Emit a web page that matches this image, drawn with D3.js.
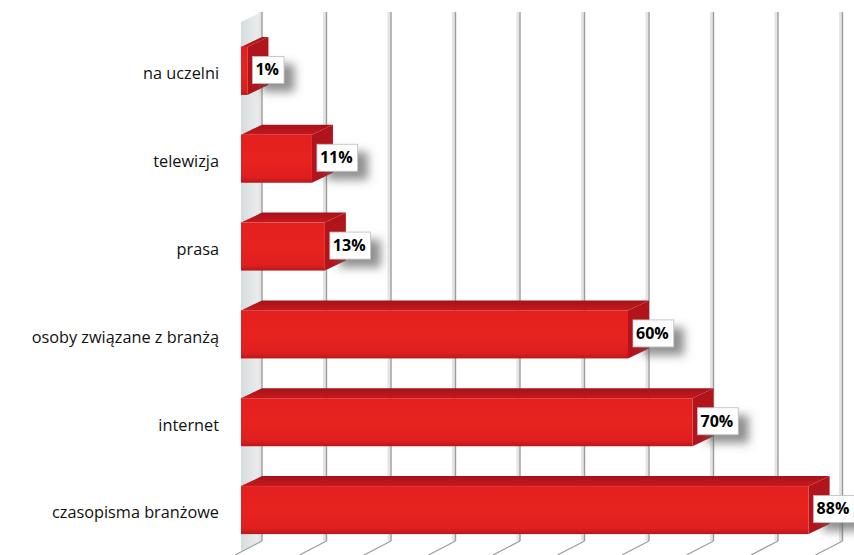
<!DOCTYPE html>
<html>
<head>
<meta charset="utf-8">
<script src="https://cdn.jsdelivr.net/npm/d3@7"></script>
<style>
  html, body { margin: 0; padding: 0; background: #fff; }
  svg { display: block; }
</style>
</head>
<body>
<script>
// Źródła informacji – udział odpowiedzi (%)
const categories = ["na uczelni", "telewizja", "prasa", "osoby związane z branżą", "internet", "czasopisma branżowe"];
const values = [1, 11, 13, 60, 70, 88];
const gridTicks = [0, 10, 20, 30, 40, 50, 60, 70, 80, 90, 100];

const W = 854, H = 555;
const depthX = 21, depthY = 10;      // 3D depth offset (front -> back)
const faceH = 48;                    // height of bar front face

const svg = d3.select("body").append("svg")
  .attr("width", W).attr("height", H);

const defs = svg.append("defs");

// gradients
const gFront = defs.append("linearGradient").attr("id", "gFront")
  .attr("x1", 0).attr("y1", 0).attr("x2", 0).attr("y2", 1);
gFront.append("stop").attr("offset", "0%").attr("stop-color", "#e2201f");
gFront.append("stop").attr("offset", "55%").attr("stop-color", "#e8231f");
gFront.append("stop").attr("offset", "90%").attr("stop-color", "#dc1e1e");
gFront.append("stop").attr("offset", "100%").attr("stop-color", "#b8181a");

const gTop = defs.append("linearGradient").attr("id", "gTop")
  .attr("x1", 0).attr("y1", 0).attr("x2", 0).attr("y2", 1);
gTop.append("stop").attr("offset", "0%").attr("stop-color", "#a51219");
gTop.append("stop").attr("offset", "100%").attr("stop-color", "#c41a1e");

const gWall = defs.append("linearGradient").attr("id", "gWall")
  .attr("x1", 0).attr("y1", 0).attr("x2", 1).attr("y2", 0);
gWall.append("stop").attr("offset", "0%").attr("stop-color", "#d6dcdc");
gWall.append("stop").attr("offset", "100%").attr("stop-color", "#eef0f0");

const shadow = defs.append("filter").attr("id", "boxShadow")
  .attr("x", "-20%").attr("y", "-30%").attr("width", "190%").attr("height", "220%");
shadow.append("feDropShadow")
  .attr("dx", 10).attr("dy", 8).attr("stdDeviation", 5)
  .attr("flood-color", "#606060").attr("flood-opacity", 0.7);

// scales
const x = d3.scaleLinear().domain([0, 100]).range([241, 241 + 645]);
const y = d3.scaleBand().domain(categories).range([27, 554]).paddingInner(0).paddingOuter(0);
const cy = d => y(d) + y.bandwidth() / 2;

const wallTop = 12, wallBottom = 541;

// left side wall
svg.append("path")
  .attr("d", `M${x(0)},${wallTop + depthY} L${x(0) + depthX},${wallTop} L${x(0) + depthX},${wallBottom} L${x(0)},${wallBottom + depthY} Z`)
  .attr("fill", "url(#gWall)");

// back wall gridlines
const grid = svg.append("g");
grid.selectAll("line.soft").data(gridTicks).join("line")
  .attr("class", "soft")
  .attr("x1", d => x(d) + depthX - 2).attr("x2", d => x(d) + depthX - 2)
  .attr("y1", wallTop).attr("y2", wallBottom)
  .attr("stroke", "#e4e4e4").attr("stroke-width", 3);
grid.selectAll("line.main").data(gridTicks).join("line")
  .attr("class", "main")
  .attr("x1", d => x(d) + depthX).attr("x2", d => x(d) + depthX)
  .attr("y1", wallTop).attr("y2", wallBottom)
  .attr("stroke", "#9c9c9c").attr("stroke-width", 1.4);
// floor gridlines
grid.selectAll("line.floor").data(gridTicks).join("line")
  .attr("class", "floor")
  .attr("x1", d => x(d) + depthX).attr("y1", wallBottom)
  .attr("x2", d => x(d) - 6).attr("y2", wallBottom + 14)
  .attr("stroke", "#9c9c9c").attr("stroke-width", 1.2);

// bars
const bars = svg.append("g").selectAll("g.bar")
  .data(categories.map((c, i) => ({ c, v: values[i] })))
  .join("g").attr("class", "bar");

bars.append("path") // top face
  .attr("d", d => {
    const t = cy(d.c) - faceH / 2, x0 = x(0), x1 = x(d.v);
    return `M${x0},${t} L${x1},${t} L${x1 + depthX},${t - depthY} L${x0 + depthX},${t - depthY} Z`;
  })
  .attr("fill", "url(#gTop)");

bars.append("path") // end face
  .attr("d", d => {
    const t = cy(d.c) - faceH / 2, b = t + faceH, x1 = x(d.v);
    return `M${x1},${t} L${x1 + depthX},${t - depthY} L${x1 + depthX},${b - depthY} L${x1},${b} Z`;
  })
  .attr("fill", "#b2141b");

bars.append("rect") // front face
  .attr("x", x(0))
  .attr("y", d => cy(d.c) - faceH / 2)
  .attr("width", d => x(d.v) - x(0))
  .attr("height", faceH)
  .attr("fill", "url(#gFront)");

// category labels
svg.append("g").selectAll("text").data(categories).join("text")
  .attr("x", 219)
  .attr("y", d => cy(d) + 4)
  .attr("text-anchor", "end")
  .attr("dominant-baseline", "middle")
  .attr("font-family", "'Open Sans', sans-serif")
  .attr("font-size", 16.3)
  .attr("fill", "#111")
  .text(d => d);

// value labels
const labels = svg.append("g").selectAll("g.lbl")
  .data(categories.map((c, i) => ({ c, v: values[i] })))
  .join("g").attr("class", "lbl");

labels.each(function (d) {
  const g = d3.select(this);
  const txt = g.append("text")
    .attr("font-family", "'Open Sans', sans-serif")
    .attr("font-weight", 700)
    .attr("font-size", 16)
    .attr("fill", "#000")
    .attr("dominant-baseline", "middle")
    .text(d.v + "%");
  const tw = txt.node().getComputedTextLength();
  const bx = x(d.v) + 5, bh = 27, by = cy(d.c) - 1 - bh / 2, bw = tw + 8;
  g.insert("rect", "text")
    .attr("x", bx).attr("y", by).attr("width", bw).attr("height", bh)
    .attr("fill", "#fff").attr("stroke", "#bdbdbd").attr("stroke-width", 0.8)
    .attr("filter", "url(#boxShadow)");
  txt.attr("x", bx + 3).attr("y", by + bh / 2 + 1);
});
</script>
</body>
</html>
